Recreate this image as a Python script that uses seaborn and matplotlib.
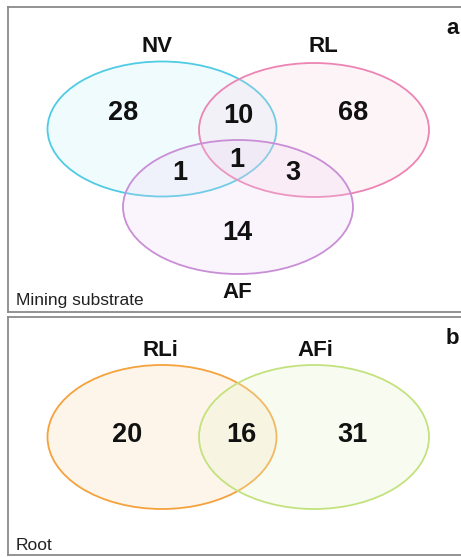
import matplotlib
matplotlib.use("Agg")
import matplotlib.pyplot as plt
from matplotlib.patches import Ellipse
import seaborn as sns

sns.set_style("white")
plt.rcParams['font.family'] = ['Liberation Sans', 'DejaVu Sans']

# Panel a: mining substrate (3 sets)
sets_a = ["NV", "RL", "AF"]
colors_a = ["#4fcbe3", "#ec84b4", "#c98ed6"]
fills_a = ["#bdeef7", "#f9cfe2", "#ecd3f2"]
regions_a = ["NV only", "NV&RL", "RL only", "NV&AF", "NV&RL&AF", "RL&AF", "AF only"]
counts_a = [28, 10, 68, 1, 1, 3, 14]

# Panel b: root (2 sets)
sets_b = ["RLi", "AFi"]
colors_b = ["#f5a23c", "#c3e27e"]
fills_b = ["#fbdcb6", "#e8f5cc"]
regions_b = ["RLi only", "RLi&AFi", "AFi only"]
counts_b = [20, 16, 31]

fig = plt.figure(figsize=(4.61, 5.57), dpi=100)
W, H = 461, 557

def make_ax(x0, y0, x1, y1):
    ax = fig.add_axes([x0 / W, 1 - y1 / H, (x1 - x0) / W, (y1 - y0) / H])
    ax.set_xlim(x0, x1)
    ax.set_ylim(y1, y0)
    ax.set_xticks([])
    ax.set_yticks([])
    for s in ax.spines.values():
        s.set_color("#8a8a8a")
        s.set_linewidth(1.3)
    ax.spines["right"].set_visible(False)
    return ax

NUM_FS = 19.5
LAB_FS = 16
SMALL_FS = 12.5

# ---- panel a ----
ax = make_ax(8, 7, 463, 312)
ell_a = [(162, 129, 229, 135), (314, 130, 230, 134), (238, 207, 230, 134)]
for (cx, cy, w, h), ec, fc in zip(ell_a, colors_a, fills_a):
    ax.add_patch(Ellipse((cx, cy), w, h, facecolor=fc, alpha=0.22, edgecolor="none"))
    ax.add_patch(Ellipse((cx, cy), w, h, facecolor="none", edgecolor=ec, linewidth=1.3))
lab_pos_a = [(157, 47), (323, 47), (237, 293)]
for name, (x, y) in zip(sets_a, lab_pos_a):
    ax.text(x, y, name, ha="center", va="center", fontsize=LAB_FS, fontweight="bold", color="#111111")
num_pos_a = [(123, 113), (238, 116), (353, 113), (180, 173), (237, 160), (293, 173), (237, 233)]
for c, (x, y) in zip(counts_a, num_pos_a):
    ax.text(x, y, str(c), ha="center", va="center", fontsize=NUM_FS, fontweight="bold", color="#111111")
ax.text(453, 28, "a", ha="center", va="center", fontsize=LAB_FS, fontweight="bold", color="#111111")
ax.text(16, 300, "Mining substrate", ha="left", va="center", fontsize=SMALL_FS, color="#222222")

# ---- panel b ----
ax2 = make_ax(8, 317, 463, 555)
ell_b = [(162, 437, 229, 144), (314, 437, 230, 144)]
for (cx, cy, w, h), ec, fc in zip(ell_b, colors_b, fills_b):
    ax2.add_patch(Ellipse((cx, cy), w, h, facecolor=fc, alpha=0.28, edgecolor="none"))
    ax2.add_patch(Ellipse((cx, cy), w, h, facecolor="none", edgecolor=ec, linewidth=1.3))
lab_pos_b = [(160, 350), (315, 350)]
for name, (x, y) in zip(sets_b, lab_pos_b):
    ax2.text(x, y, name, ha="center", va="center", fontsize=LAB_FS, fontweight="bold", color="#111111")
num_pos_b = [(127, 435), (241, 435), (352, 435)]
for c, (x, y) in zip(counts_b, num_pos_b):
    ax2.text(x, y, str(c), ha="center", va="center", fontsize=NUM_FS, fontweight="bold", color="#111111")
ax2.text(452, 338, "b", ha="center", va="center", fontsize=LAB_FS, fontweight="bold", color="#111111")
ax2.text(16, 545, "Root", ha="left", va="center", fontsize=SMALL_FS, color="#222222")

fig.savefig("out.png", dpi=100)
